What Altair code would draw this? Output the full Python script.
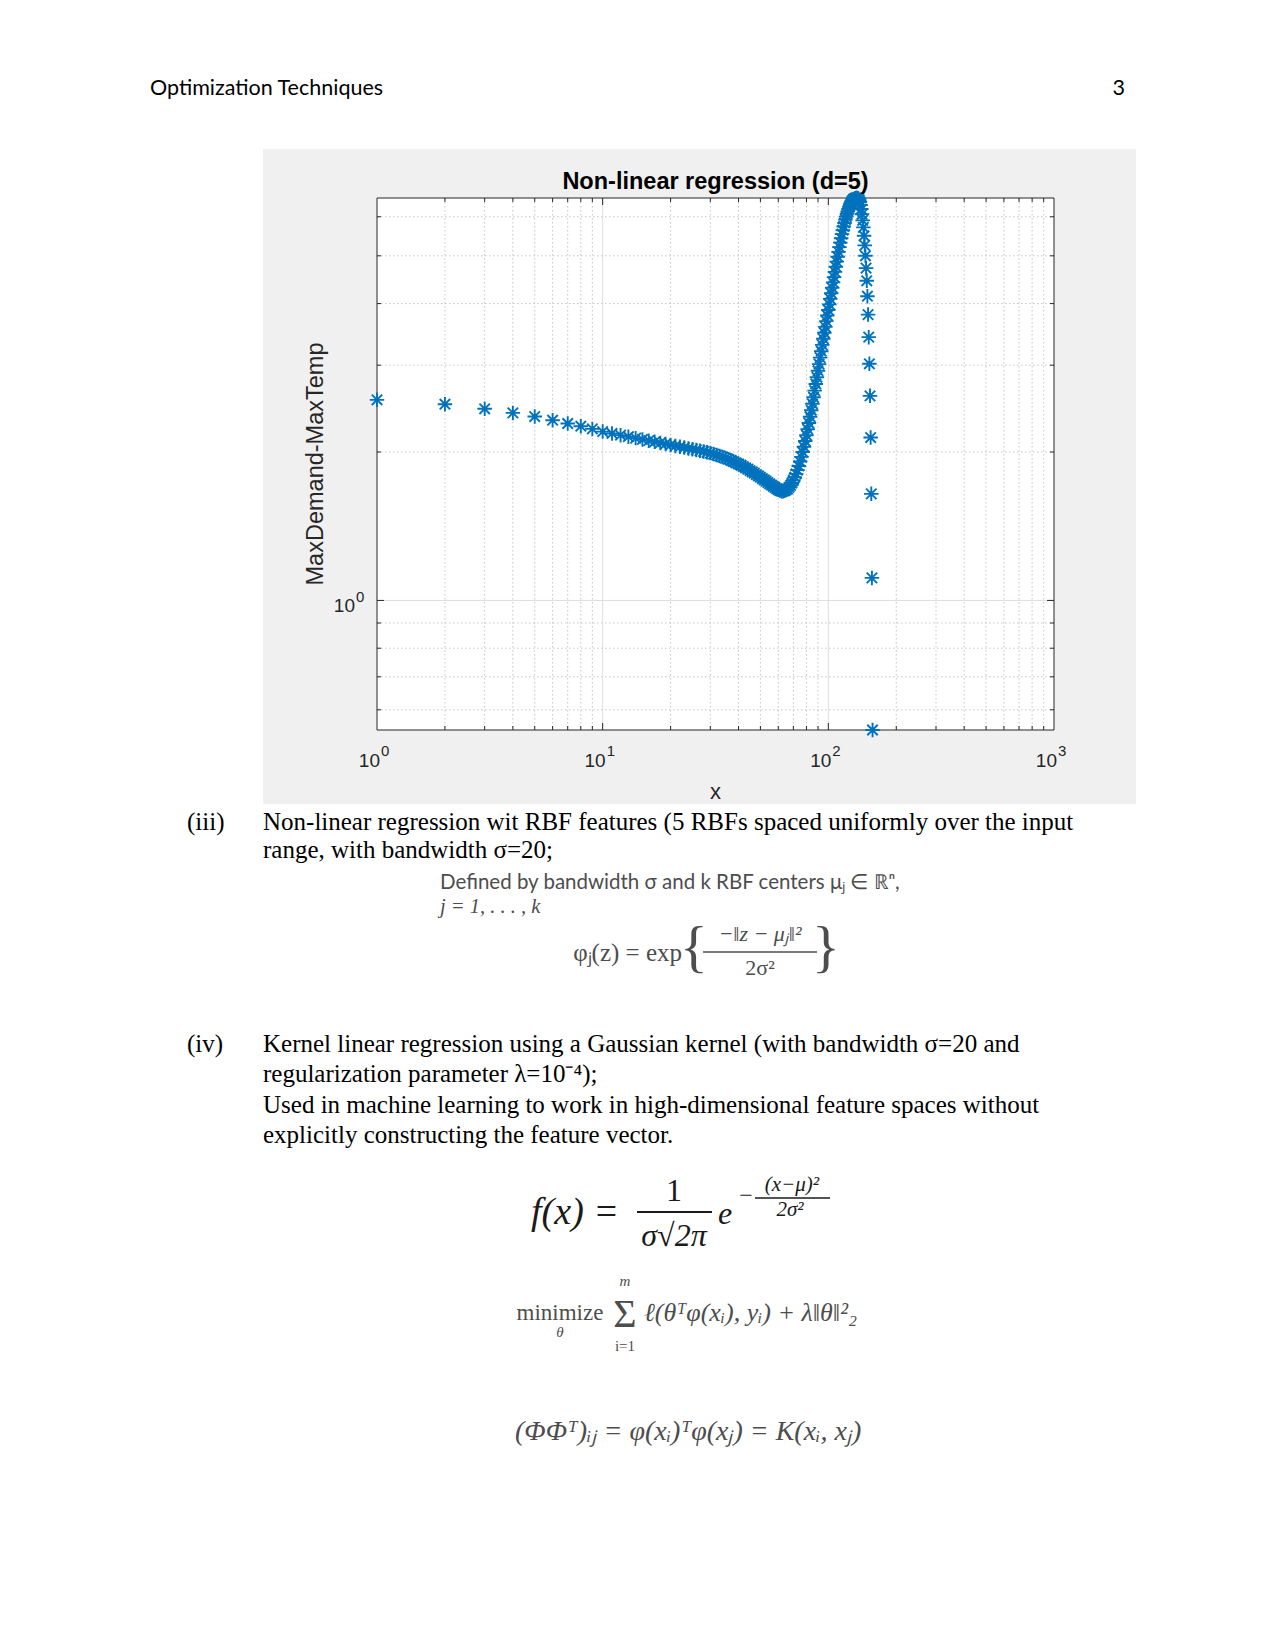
import altair as alt
import pandas as pd

# ---------------- data ----------------
x_index = list(range(1, 158))
y_fit = [
    2.552, 2.500, 2.447, 2.401, 2.360, 2.320, 2.285, 2.256, 2.228, 2.200,
    2.181, 2.164, 2.148, 2.134, 2.121, 2.109, 2.098, 2.087, 2.077, 2.067,
    2.058, 2.050, 2.042, 2.034, 2.027, 2.020, 2.012, 2.005, 1.997, 1.990,
    1.981, 1.972, 1.963, 1.954, 1.944, 1.934, 1.924, 1.913, 1.902, 1.891,
    1.880, 1.869, 1.858, 1.846, 1.834, 1.823, 1.812, 1.800, 1.789, 1.778,
    1.767, 1.756, 1.745, 1.734, 1.724, 1.714, 1.704, 1.695, 1.686, 1.677,
    1.670, 1.666, 1.666, 1.669, 1.675, 1.684, 1.696, 1.712, 1.731, 1.753,
    1.778, 1.806, 1.838, 1.874, 1.913, 1.955, 2.000, 2.050, 2.105, 2.163,
    2.225, 2.290, 2.358, 2.430, 2.505, 2.583, 2.664, 2.748, 2.835, 2.924,
    3.015, 3.108, 3.203, 3.298, 3.394, 3.491, 3.588, 3.686, 3.784, 3.883,
    3.985, 4.090, 4.197, 4.306, 4.416, 4.527, 4.639, 4.752, 4.866, 4.980,
    5.094, 5.207, 5.318, 5.427, 5.533, 5.636, 5.735, 5.830, 5.920, 6.005,
    6.085, 6.159, 6.227, 6.289, 6.345, 6.394, 6.436, 6.471, 6.499, 6.520,
    6.534, 6.543, 6.548, 6.550, 6.545, 6.530, 6.490, 6.430, 6.340, 6.220,
    6.070, 5.900, 5.710, 5.490, 5.250, 5.000, 4.720, 4.450, 4.140, 3.800,
    3.420, 3.020, 2.600, 2.140, 1.645, 1.111, 0.546,
]

x_domain = [1, 1000]
y_domain = [0.546, 6.55]
x_decades = [1, 10, 100, 1000]
x_exponents = ["0", "1", "2", "3"]
y_decades = [1]
y_exponents = ["0"]
x_major_inner = [10, 100]
x_minor = [2, 3, 4, 5, 6, 7, 8, 9, 20, 30, 40, 50, 60, 70, 80, 90,
           200, 300, 400, 500, 600, 700, 800, 900]
y_major_inner = [1]
y_minor = [0.6, 0.7, 0.8, 0.9, 2, 3, 4, 5, 6]

title_text = "Non-linear regression (d=5)"
x_title = "x"
y_title = "MaxDemand-MaxTemp"
header_left = "Optimization Techniques"
header_right = "3"
item3_label = "(iii)"
item3_lines = [
    "Non-linear regression wit RBF features (5 RBFs spaced uniformly over the input",
    "range, with bandwidth σ=20;",
]
item4_label = "(iv)"
item4_lines = [
    "Kernel linear regression using a Gaussian kernel (with bandwidth σ=20 and",
    "regularization parameter λ=10⁻⁴);",
    "Used in machine learning to work in high-dimensional feature spaces without",
    "explicitly constructing the feature vector.",
]
rbf_line1 = "Defined by bandwidth σ and k RBF centers μⱼ ∈ ℝⁿ,"
rbf_line2 = "j = 1, . . . , k"
rbf_lhs = "φⱼ(z) = exp"
rbf_num = "−‖z − μⱼ‖²"
rbf_den = "2σ²"
gauss_lhs = "f(x) ="
gauss_num = "1"
gauss_den = "σ√2π"
gauss_e = "e"
gauss_minus = "−"
gauss_exp_num = "(x−μ)²"
gauss_exp_den = "2σ²"
min_word = "minimize"
min_sub = "θ"
min_sum = "Σ"
min_top = "m"
min_bottom = "i=1"
min_rest = "ℓ(θᵀφ(xᵢ), yᵢ) + λ‖θ‖²₂"
kernel_eq = "(ΦΦᵀ)ᵢⱼ = φ(xᵢ)ᵀφ(xⱼ) = K(xᵢ, xⱼ)"

# ---------------- layout ----------------
PAGE_W, PAGE_H = 1275, 1650
OX, OY = 377, 198          # plot-area origin on the page
W, H = 677, 532            # plot-area size
FIG = (263, 149, 1136, 804)  # grey figure panel on the page

AX = "#262626"
BLUE = "#0072BD"
GREY_FIG = "#F0F0F0"
FORM = "#4d4d4d"
SANS = "Liberation Sans"
SERIF = "Liberation Serif"

xs = alt.Scale(type="log", domain=x_domain, nice=False)
ys = alt.Scale(type="log", domain=y_domain, nice=False, zero=False)

one = pd.DataFrame({"k": [0]})


def prect(x1, y1, x2, y2, color):
    return alt.Chart(one).mark_rect(color=color).encode(
        x=alt.value(x1 - OX), x2=alt.value(x2 - OX),
        y=alt.value(y1 - OY), y2=alt.value(y2 - OY))


def prule(x1, y1, x2, y2, color, width=1.0):
    return alt.Chart(one).mark_rule(color=color, strokeWidth=width).encode(
        x=alt.value(x1 - OX), x2=alt.value(x2 - OX),
        y=alt.value(y1 - OY), y2=alt.value(y2 - OY))


def ptext(text, px, py, size, font=SERIF, color="black", align="left",
          weight="normal", style="normal", angle=None):
    kw = dict(align=align, baseline="middle", font=font, fontSize=size,
              color=color, fontWeight=weight, fontStyle=style)
    if angle is not None:
        kw["angle"] = angle
    return alt.Chart(pd.DataFrame({"t": [text]})).mark_text(**kw).encode(
        x=alt.value(px - OX), y=alt.value(py - OY), text="t:N")


def vlines(values, color, dash=None, y1=0, y2=H, width=1.0):
    kw = dict(color=color, strokeWidth=width)
    if dash:
        kw["strokeDash"] = dash
    return alt.Chart(pd.DataFrame({"v": values})).mark_rule(**kw).encode(
        x=alt.X("v:Q", scale=xs, axis=None),
        y=alt.value(y1), y2=alt.value(y2))


def hlines(values, color, dash=None, x1=0, x2=W, width=1.0):
    kw = dict(color=color, strokeWidth=width)
    if dash:
        kw["strokeDash"] = dash
    return alt.Chart(pd.DataFrame({"v": values})).mark_rule(**kw).encode(
        y=alt.Y("v:Q", scale=ys, axis=None),
        x=alt.value(x1), x2=alt.value(x2))


layers = []

# grey figure panel around the axes
fx1, fy1, fx2, fy2 = FIG
layers += [
    prect(fx1, fy1, fx2, OY, GREY_FIG),
    prect(fx1, OY + H, fx2, fy2, GREY_FIG),
    prect(fx1, OY, OX, OY + H, GREY_FIG),
    prect(OX + W, OY, fx2, OY + H, GREY_FIG),
]

# grid
MINOR_C = "#c4c4c4"
MAJOR_C = "#dedede"
layers += [
    vlines(x_minor, MINOR_C, dash=[1.5, 2.5]),
    hlines(y_minor, MINOR_C, dash=[1.5, 2.5]),
    vlines(x_major_inner, MAJOR_C),
    hlines(y_major_inner, MAJOR_C),
]

# inward ticks on all four sides
MJ, MN = 7, 4
layers += [
    vlines(x_major_inner, AX, y1=H, y2=H - MJ),
    vlines(x_major_inner, AX, y1=0, y2=MJ),
    vlines(x_minor, AX, y1=H, y2=H - MN),
    vlines(x_minor, AX, y1=0, y2=MN),
    hlines(y_major_inner, AX, x1=0, x2=MJ),
    hlines(y_major_inner, AX, x1=W, x2=W - MJ),
    hlines(y_minor, AX, x1=0, x2=MN),
    hlines(y_minor, AX, x1=W, x2=W - MN),
]

# axes box
layers.append(
    alt.Chart(one).mark_rect(fillOpacity=0, stroke=AX, strokeWidth=1).encode(
        x=alt.value(0), x2=alt.value(W), y=alt.value(0), y2=alt.value(H))
)

# data: asterisk markers
ASTERISK = "M-1,0L1,0M0,-1L0,1M-0.72,-0.72L0.72,0.72M-0.72,0.72L0.72,-0.72"
df = pd.DataFrame({"x": x_index, "y": y_fit})
layers.append(
    alt.Chart(df).mark_point(shape=ASTERISK, size=210, filled=False,
                             strokeWidth=1.9, color=BLUE, opacity=1).encode(
        x=alt.X("x:Q", scale=xs, axis=None),
        y=alt.Y("y:Q", scale=ys, axis=None))
)

# tick labels (10 with superscript exponent)
xd = pd.DataFrame({"v": x_decades, "e": x_exponents})
layers += [
    alt.Chart(xd).mark_text(align="right", baseline="middle", font=SANS,
                            fontSize=19, color=AX, dx=3).encode(
        x=alt.X("v:Q", scale=xs, axis=None), y=alt.value(H + 31),
        text=alt.value("10")),
    alt.Chart(xd).mark_text(align="left", baseline="middle", font=SANS,
                            fontSize=15, color=AX, dx=4).encode(
        x=alt.X("v:Q", scale=xs, axis=None), y=alt.value(H + 21),
        text="e:N"),
]
yd = pd.DataFrame({"v": y_decades, "e": y_exponents})
layers += [
    alt.Chart(yd).mark_text(align="right", baseline="middle", font=SANS,
                            fontSize=19, color=AX, dy=6).encode(
        y=alt.Y("v:Q", scale=ys, axis=None), x=alt.value(-22),
        text=alt.value("10")),
    alt.Chart(yd).mark_text(align="left", baseline="middle", font=SANS,
                            fontSize=15, color=AX, dy=-3).encode(
        y=alt.Y("v:Q", scale=ys, axis=None), x=alt.value(-21),
        text="e:N"),
]

# titles
layers += [
    ptext(title_text, OX + W / 2, 182, 23.5, font=SANS, color="black",
          align="center", weight="bold"),
    ptext(x_title, OX + W / 2, 792, 22, font=SANS, color=AX, align="center"),
    ptext(y_title, 316, OY + H / 2, 23.5, font=SANS, color=AX, align="center",
          angle=270),
]

# page header
layers += [
    ptext(header_left, 150, 89, 21.5, font="Lato", color="black"),
    ptext(header_right, 1125, 89, 21.5, font="Lato", color="black", align="right"),
]

# item (iii)
layers.append(ptext(item3_label, 187, 822, 25))
for i, line in enumerate(item3_lines):
    layers.append(ptext(line, 263, 822 + 28 * i, 25))

# RBF definition block
layers += [
    ptext(rbf_line1, 440, 883, 20.5, font="Lato", color=FORM),
    ptext(rbf_line2, 440, 907, 20.5, color=FORM, style="italic"),
    ptext(rbf_lhs, 682, 953, 25, color=FORM, align="right"),
    ptext("{", 694, 949, 58, color=FORM, align="center"),
    ptext(rbf_num, 760, 934, 22, color=FORM, align="center", style="italic"),
    prule(703, 952, 817, 952, FORM, 1.4),
    ptext(rbf_den, 760, 968, 22, color=FORM, align="center"),
    ptext("}", 826, 949, 58, color=FORM, align="center"),
]

# item (iv)
layers.append(ptext(item4_label, 187, 1044, 25))
for line, yy in zip(item4_lines, [1044, 1074, 1105, 1135]):
    layers.append(ptext(line, 263, yy, 25))

# Gaussian formula
G = "#1a1a1a"
layers += [
    ptext(gauss_lhs, 575, 1213, 38, color=G, align="center", style="italic"),
    ptext(gauss_num, 674, 1191, 32, color=G, align="center"),
    prule(637, 1212, 712, 1212, G, 2.2),
    ptext(gauss_den, 674, 1236, 32, color=G, align="center", style="italic"),
    ptext(gauss_e, 725, 1214, 32, color=G, align="center", style="italic"),
    ptext(gauss_minus, 746, 1196, 24, color=G, align="center"),
    ptext(gauss_exp_num, 792, 1185, 21, color=G, align="center", style="italic"),
    prule(755, 1198, 830, 1198, G, 1.4),
    ptext(gauss_exp_den, 790, 1210, 21, color=G, align="center", style="italic"),
]

# minimize formula
layers += [
    ptext(min_word, 560, 1313, 23, color=FORM, align="center"),
    ptext(min_sub, 560, 1332, 15, color=FORM, align="center", style="italic"),
    ptext(min_sum, 625, 1315, 40, color=FORM, align="center"),
    ptext(min_top, 625, 1281, 15, color=FORM, align="center", style="italic"),
    ptext(min_bottom, 625, 1346, 15, color=FORM, align="center"),
    ptext(min_rest, 644, 1313, 26, color=FORM, style="italic"),
]

# kernel identity
layers.append(ptext(kernel_eq, 515, 1432, 28, color=FORM, style="italic"))

chart = alt.layer(*layers).properties(
    width=W,
    height=H,
    autosize=alt.AutoSizeParams(type="none"),
    padding={"left": OX, "top": OY, "right": PAGE_W - OX - W,
             "bottom": PAGE_H - OY - H},
    background="white",
).configure_view(strokeWidth=0)

chart.save("out.html", embed_options={"renderer": "svg", "actions": False})
